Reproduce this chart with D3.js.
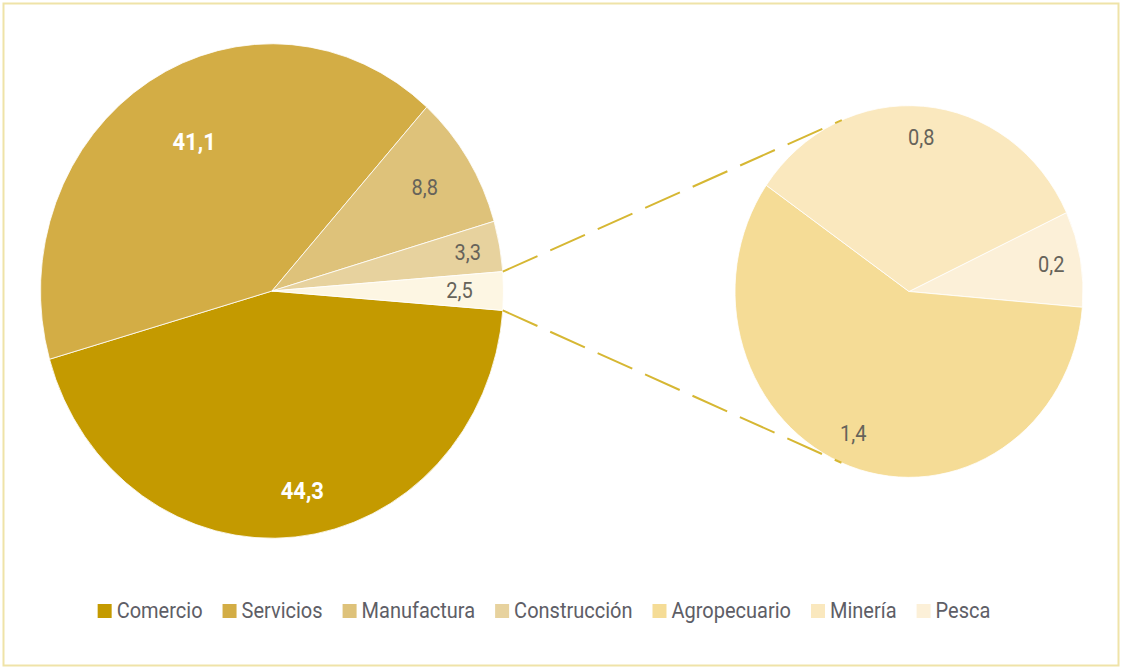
<!DOCTYPE html>
<html>
<head>
<meta charset="utf-8">
<script src="https://cdn.jsdelivr.net/npm/d3@7/dist/d3.min.js"></script>
<style>
  html, body { margin: 0; padding: 0; background: #fff; }
  svg { display: block; }
  text { font-family: "Roboto", "Liberation Sans", sans-serif; }
</style>
</head>
<body>
<svg id="chart" width="1122" height="670"></svg>
<script>
// Main pie sectors (percent) and the breakdown of "Otros" shown in the side pie
const mainCategories = ["Comercio", "Servicios", "Manufactura", "Construcción", "Otros"];
const mainValues     = [44.3, 41.1, 8.8, 3.3, 2.5];
const mainLabels     = ["44,3", "41,1", "8,8", "3,3", "2,5"];

const subCategories = ["Pesca", "Agropecuario", "Minería"];
const subValues     = [0.2, 1.4, 0.8];
const subLabels     = ["0,2", "1,4", "0,8"];

const legendCategories = ["Comercio", "Servicios", "Manufactura", "Construcción", "Agropecuario", "Minería", "Pesca"];

// Styling
const colors = {
  "Comercio": "#C49A00",
  "Servicios": "#D3AD45",
  "Manufactura": "#DEC27A",
  "Construcción": "#E7D29E",
  "Otros": "#FDF6E3",
  "Agropecuario": "#F5DC96",
  "Minería": "#FAE8BE",
  "Pesca": "#FCF0D8"
};
const whiteLabel = new Set(["Comercio", "Servicios"]);
// radial position of each value label, as a share of the radius
const labelRadiusFactor = { "Servicios": 0.69, "Manufactura": 0.78, "Construcción": 0.86, "Comercio": 0.82 };
// small angular nudges (radians) for labels placed off the slice centre line
const labelAngleShift = { "Comercio": -0.06, "Servicios": 0.05, "Agropecuario": 0.05 };

const W = 1122, H = 670;
const yStretch = 1.068;            // pies are slightly taller than wide
const main = { cx: 272, cy: 291, r: 231.5 };
const side = { cx: 909, cy: 291.5, r: 174 };

const svg = d3.select("#chart");

// frame
svg.append("rect")
  .attr("x", 3.5).attr("y", 3.5)
  .attr("width", W - 7).attr("height", H - 8)
  .attr("fill", "#fff")
  .attr("stroke", "#EFE3A8").attr("stroke-width", 2);

// ---- main pie: "Otros" centred on the right-hand side ----
const otrosFrac = mainValues[4] / d3.sum(mainValues);
const mainStart = Math.PI / 2 + otrosFrac * Math.PI;
const mainPie = d3.pie().sort(null).value(d => d.v)
  .startAngle(mainStart).endAngle(mainStart + 2 * Math.PI);
const mainData = mainPie(mainCategories.map((c, i) => ({ c, v: mainValues[i], l: mainLabels[i] })));
const mainArc = d3.arc().innerRadius(0).outerRadius(main.r);

const gMain = svg.append("g")
  .attr("transform", `translate(${main.cx},${main.cy}) scale(1,${yStretch})`);
gMain.selectAll("path").data(mainData).join("path")
  .attr("d", mainArc)
  .attr("fill", d => colors[d.data.c])
  .attr("stroke", "#fff").attr("stroke-width", 0.8)
  .attr("vector-effect", "non-scaling-stroke");

// ---- side pie: breakdown of "Otros" ----
// Pesca's lower edge sits just below the horizontal on the right
const subTotal = d3.sum(subValues);
const subStart = Math.PI / 2 + 0.085 - (subValues[0] / subTotal) * 2 * Math.PI;
const subPie = d3.pie().sort(null).value(d => d.v)
  .startAngle(subStart).endAngle(subStart + 2 * Math.PI);
const subData = subPie(subCategories.map((c, i) => ({ c, v: subValues[i], l: subLabels[i] })));
const subArc = d3.arc().innerRadius(0).outerRadius(side.r);

const gSide = svg.append("g")
  .attr("transform", `translate(${side.cx},${side.cy}) scale(1,${yStretch})`);
gSide.selectAll("path").data(subData).join("path")
  .attr("d", subArc)
  .attr("fill", d => colors[d.data.c])
  .attr("stroke", "#fff").attr("stroke-width", 0.8)
  .attr("vector-effect", "non-scaling-stroke");

// ---- connector lines: tangents from the edges of "Otros" to the side pie ----
const otrosSlice = mainData[4];
function tangentPoint(p, upper) {
  // work in unstretched space relative to the side-pie centre
  const dx = p[0] - side.cx, dy = (p[1] - side.cy) / yStretch;
  const d = Math.hypot(dx, dy);
  const base = Math.atan2(dy, dx);
  const off = Math.acos(side.r / d);
  const a = upper ? base + off : base - off;
  return [side.cx + side.r * Math.cos(a), side.cy + side.r * Math.sin(a) * yStretch];
}
[otrosSlice.startAngle, otrosSlice.endAngle].forEach((ang, i) => {
  const p = [main.cx + main.r * Math.sin(ang), main.cy - main.r * Math.cos(ang) * yStretch];
  const t = tangentPoint(p, i === 0);
  svg.append("line")
    .attr("x1", p[0]).attr("y1", p[1]).attr("x2", t[0]).attr("y2", t[1])
    .attr("stroke", "#D6B733").attr("stroke-width", 2)
    .attr("stroke-dasharray", "38,14");
});

// ---- value labels ----
function addLabels(data, centre, r, defFactor) {
  data.forEach(d => {
    const f = labelRadiusFactor[d.data.c] || defFactor;
    const a = (d.startAngle + d.endAngle) / 2 + (labelAngleShift[d.data.c] || 0);
    const x = centre.cx + f * r * Math.sin(a);
    const y = centre.cy - f * r * Math.cos(a) * yStretch;
    const white = whiteLabel.has(d.data.c);
    svg.append("text")
      .attr("transform", `translate(${x},${y}) scale(1,${yStretch})`)
      .attr("text-anchor", "middle").attr("dominant-baseline", "central")
      .attr("fill", white ? "#FFFFFF" : "#66635A")
      .attr("font-weight", white ? "bold" : "normal")
      .attr("font-size", white ? 22 : 20)
      .text(d.data.l);
  });
}
addLabels(mainData, main, main.r, 0.81);
addLabels(subData, side, side.r, 0.83);

// ---- legend ----
const legend = svg.append("g");
const gap = 20;
let x = 0;
legendCategories.forEach(c => {
  const g = legend.append("g").attr("transform", `translate(${x},0)`);
  g.append("rect").attr("x", 0).attr("y", -7).attr("width", 14).attr("height", 14)
    .attr("fill", colors[c]);
  const t = g.append("text")
    .attr("transform", `translate(19,0) scale(1,${yStretch})`)
    .attr("dominant-baseline", "central")
    .attr("font-size", 20).attr("fill", "#5E5E66").text(c);
  x += 19 + t.node().getComputedTextLength() + gap;
});
const legendWidth = x - gap;
legend.attr("transform", `translate(${544 - legendWidth / 2},611)`);
</script>
</body>
</html>
